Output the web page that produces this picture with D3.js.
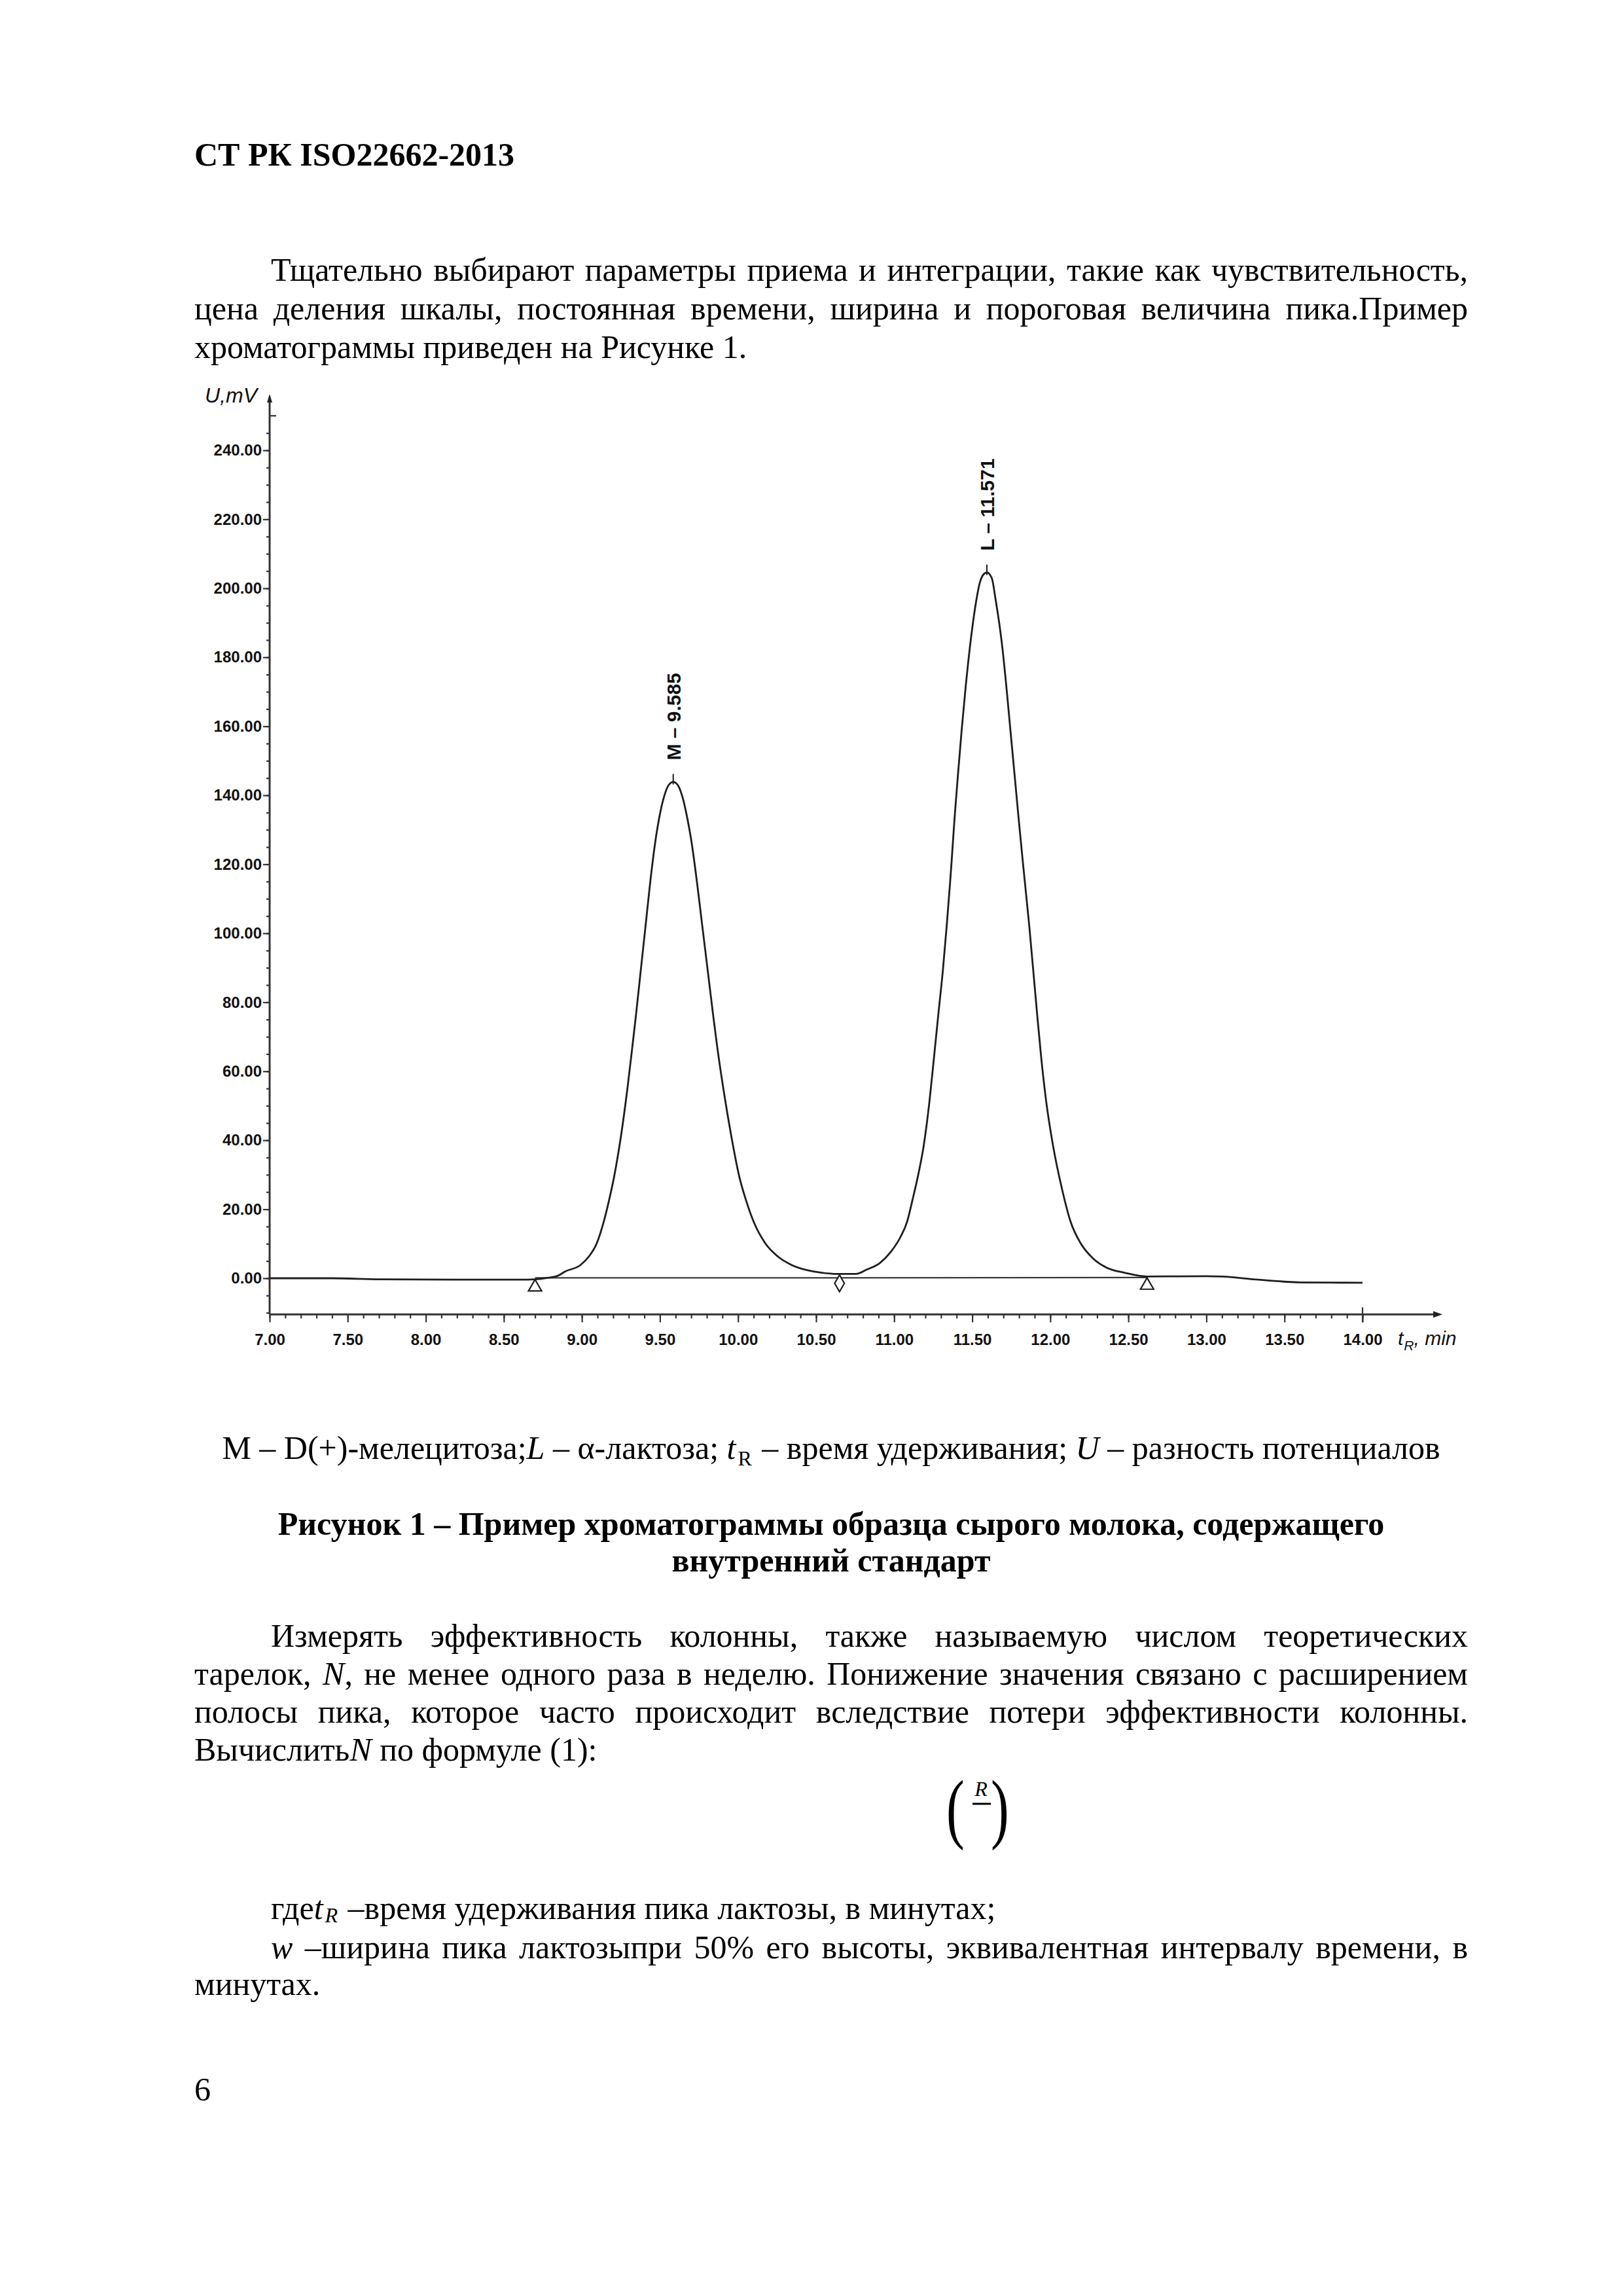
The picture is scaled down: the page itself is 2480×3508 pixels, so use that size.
<!DOCTYPE html>
<html>
<head>
<meta charset="utf-8">
<script src="https://cdn.jsdelivr.net/npm/d3@7"></script>
<style>
  body { margin: 0; background: #fff; }
  svg { display: block; }
</style>
</head>
<body>
<script>
// chromatogram trace (min, mV)
const retentionTime = [
  7.00, 7.40, 7.70, 8.20, 8.60, 8.70, 8.78, 8.85,
  // M peak
  8.89, 8.99, 9.045, 9.095, 9.14, 9.175, 9.205, 9.252, 9.29, 9.323, 9.347, 9.377, 9.407, 9.437,
  9.472, 9.495, 9.527, 9.555, 9.585, 9.615, 9.643, 9.675, 9.70, 9.738, 9.772, 9.806, 9.84, 9.867,
  9.908, 9.955, 10.01, 10.05, 10.10, 10.175, 10.255, 10.345, 10.49,
  // valley
  10.64, 10.755,
  // L peak
  10.824, 10.908, 10.978, 11.041, 11.083, 11.118, 11.15, 11.19, 11.226, 11.255, 11.283, 11.312,
  11.336, 11.358, 11.368, 11.387, 11.409, 11.432, 11.458, 11.488, 11.527, 11.548, 11.572, 11.594,
  11.625, 11.65, 11.69, 11.719, 11.745, 11.771, 11.797, 11.824, 11.866, 11.891, 11.916, 11.942,
  11.974, 12.017, 12.075, 12.13, 12.195, 12.275, 12.36, 12.475, 12.62,
  // tail
  13.00, 13.10, 13.30, 13.50, 13.60, 14.00
];
const signal = [
  0.0, 0.0, -0.3, -0.4, -0.4, -0.3, 0.1, 0.8,
  1.9, 3.8, 6.3, 10.1, 16.4, 22.8, 29.1, 41.7, 54.4, 67.0, 76.5, 89.2, 101.8, 114.5,
  127.1, 133.4, 139.7, 142.9, 143.9, 142.9, 139.7, 133.4, 127.1, 114.5, 101.8, 89.2, 76.5, 67.0,
  54.4, 41.7, 29.1, 22.8, 16.4, 10.1, 6.3, 3.8, 1.9,
  1.25, 1.25,
  2.5, 4.4, 7.6, 12.0, 16.4, 22.8, 29.1, 38.6, 51.2, 63.9, 76.5, 89.2,
  101.8, 114.5, 120.8, 133.4, 146.1, 158.7, 171.4, 184.0, 196.7, 201.5, 204.0, 204.6,
  203.0, 196.7, 184.0, 171.4, 158.7, 146.1, 133.4, 120.8, 101.8, 89.2, 76.5, 63.9,
  51.2, 38.6, 25.9, 16.4, 10.1, 5.7, 3.1, 1.6, 0.5,
  0.6, 0.5, -0.3, -1.0, -1.2, -1.3
];

// integration baseline and its start / valley / end markers
const baselineTimes = [8.70, 10.65, 12.62];
const baselineLevels = [0.1, 0.1, 0.2];
const markerTimes = [8.70, 10.65, 12.62];
const markerLevels = [-0.3, 1.0, 0.2];
const markerShapes = ['triangle', 'diamond', 'triangle'];

// peak annotations
const peakLabels = ['M – 9.585', 'L – 11.571'];
const peakTimes = [9.585, 11.594];
const peakHeights = [143.9, 204.6];

// axes
const yTickValues = [0, 20, 40, 60, 80, 100, 120, 140, 160, 180, 200, 220, 240];
const xTickValues = [7.00, 7.50, 8.00, 8.50, 9.00, 9.50, 10.00, 10.50, 11.00, 11.50, 12.00, 12.50, 13.00, 13.50, 14.00];

const W = 2480, H = 3508;
const serif = "'Liberation Serif', 'Times New Roman', serif";
const sans = "'Liberation Sans', Arial, sans-serif";
const ink = '#1e1e1e';

const svg = d3.select('body').append('svg')
  .attr('width', W)
  .attr('height', H);

svg.append('rect').attr('width', W).attr('height', H).attr('fill', '#fff');

// ---------- chart ----------
const x = d3.scaleLinear().domain([7, 14]).range([412, 2082]);
const y = d3.scaleLinear().domain([0, 240]).range([1953, 688]);

const x0 = x(7);
const axisY = y(-10.5);
const chart = svg.append('g').attr('class', 'chart');

// y ticks: minor every 5, major every 20
chart.append('g')
    .attr('transform', `translate(${x0},0)`)
    .call(d3.axisLeft(y).tickValues(d3.range(-10, 250, 5)).tickSize(5).tickFormat(''))
    .call(g => g.select('.domain').remove());

chart.append('g')
    .attr('transform', `translate(${x0},0)`)
    .call(d3.axisLeft(y).tickValues(yTickValues).tickSize(10).tickPadding(2).tickFormat(d => d.toFixed(2)))
    .call(g => g.select('.domain').remove())
    .call(g => g.selectAll('text')
      .style('font-family', sans).style('font-size', '24px').style('font-weight', 'bold').attr('fill', '#111'));

// tick at 250 sticks out to the right
chart.append('line')
    .attr('x1', x0).attr('x2', x0 + 10)
    .attr('y1', y(250)).attr('y2', y(250));

// x ticks: minor every 0.1, major every 0.5
chart.append('g')
    .attr('transform', `translate(0,${axisY})`)
    .call(d3.axisBottom(x).tickValues(d3.range(70, 141).map(d => d / 10)).tickSize(6).tickFormat(''))
    .call(g => g.select('.domain').remove());

chart.append('g')
    .attr('transform', `translate(0,${axisY})`)
    .call(d3.axisBottom(x).tickValues(xTickValues).tickSize(12).tickPadding(18).tickFormat(d => d.toFixed(2)))
    .call(g => g.select('.domain').remove())
    .call(g => g.selectAll('text')
      .style('font-family', sans).style('font-size', '24px').style('font-weight', 'bold').attr('fill', '#111'));

// end-of-range marker crosses the axis at 14.00
chart.append('line')
    .attr('x1', x(14)).attr('x2', x(14))
    .attr('y1', axisY - 11).attr('y2', axisY + 12);

chart.selectAll('.tick line, line')
    .attr('stroke', '#333').attr('stroke-width', 2.2);

// axis lines with arrow heads
const yTop = 602;
const xEnd = 2204;
chart.append('line')
    .attr('x1', x0).attr('x2', x0).attr('y1', axisY).attr('y2', yTop + 6)
    .attr('stroke', '#333').attr('stroke-width', 3);
chart.append('path')
    .attr('d', `M${x0},${yTop} L${x0 - 4},${yTop + 13} L${x0 + 4},${yTop + 13} Z`)
    .attr('fill', '#222');
chart.append('line')
    .attr('x1', x0).attr('x2', xEnd - 6).attr('y1', axisY).attr('y2', axisY)
    .attr('stroke', '#333').attr('stroke-width', 3);
chart.append('path')
    .attr('d', `M${xEnd},${axisY} L${xEnd - 14},${axisY - 5} L${xEnd - 14},${axisY + 5} Z`)
    .attr('fill', '#222');

// axis titles
chart.append('text')
    .attr('x', 313).attr('y', 615)
    .style('font-family', sans).style('font-size', '32px').style('font-style', 'italic')
    .attr('fill', '#111')
    .text('U,mV');

const xTitle = chart.append('text')
    .attr('x', 2136).attr('y', 2055)
    .style('font-family', sans).style('font-size', '30px').style('font-style', 'italic')
    .attr('fill', '#111');
xTitle.append('tspan').text('t');
xTitle.append('tspan').attr('dy', 8).attr('dx', 1).style('font-size', '21px').text('R');
xTitle.append('tspan').attr('dy', -8).text(', min');

// integration baseline
const traceLine = d3.line()
    .x(d => x(d[0]))
    .y(d => y(d[1]));

chart.append('path')
    .datum(d3.zip(baselineTimes, baselineLevels))
    .attr('d', traceLine)
    .attr('fill', 'none')
    .attr('stroke', '#3a3a3a')
    .attr('stroke-width', 2.2);

// the signal itself
chart.append('path')
    .datum(d3.zip(retentionTime, signal))
    .attr('d', traceLine.curve(d3.curveMonotoneX))
    .attr('fill', 'none')
    .attr('stroke', ink)
    .attr('stroke-width', 2.8)
    .attr('stroke-linejoin', 'round');

// baseline markers hang below the trace
const markers = d3.zip(markerTimes, markerLevels, markerShapes);
chart.selectAll('.marker')
  .data(markers)
  .enter().append('path')
    .attr('class', 'marker')
    .attr('d', d => d[2] === 'triangle'
      ? d3.symbol(d3.symbolTriangle, 175)()
      : d3.symbol(d3.symbolDiamond, 190)())
    .attr('transform', d => `translate(${x(d[0])},${y(d[1]) + (d[2] === 'triangle' ? 12 : 13)})`)
    .attr('fill', '#fff')
    .attr('stroke', ink)
    .attr('stroke-width', 2.2);

// peak apex ticks and rotated labels
const peaks = d3.zip(peakTimes, peakHeights, peakLabels);
chart.selectAll('.peak-tick')
  .data(peaks)
  .enter().append('line')
    .attr('class', 'peak-tick')
    .attr('x1', d => x(d[0])).attr('x2', d => x(d[0]))
    .attr('y1', d => y(d[1]) + 4).attr('y2', d => y(d[1]) - 12)
    .attr('stroke', ink).attr('stroke-width', 2);

chart.selectAll('.peak-label')
  .data(peaks)
  .enter().append('text')
    .attr('class', 'peak-label')
    .attr('transform', d => `translate(${x(d[0])},${y(d[1]) - 33}) rotate(-90)`)
    .attr('dy', '0.36em')
    .style('font-family', sans).style('font-size', '30px').style('font-weight', 'bold')
    .attr('fill', '#111')
    .text(d => d[2]);

// ---------- page text ----------
function writeLine(parts, o) {
  const t = svg.append('text')
      .attr('x', o.x).attr('y', o.y)
      .style('font-family', serif)
      .style('font-size', (o.size || 50) + 'px')
      .style('font-weight', o.bold ? 'bold' : 'normal')
      .attr('fill', '#000');
  if (o.anchor) t.attr('text-anchor', o.anchor);
  const drop = o.subDrop || 10;
  let shift = 0;
  parts.forEach(p => {
    const part = typeof p === 'string' ? {text: p} : p;
    const span = t.append('tspan').text(part.text);
    if (part.italic) span.style('font-style', 'italic');
    const want = part.sub ? drop : 0;
    if (want !== shift) { span.attr('dy', want - shift); shift = want; }
    if (part.sub) span.style('font-size', '32px').attr('dx', 3);
    else if (part.after) span.attr('dx', 3);
  });
  if (o.to) {
    const natural = t.node().getComputedTextLength();
    const gaps = (t.text().match(/ /g) || []).length;
    if (gaps) t.style('word-spacing', ((o.to - o.x - natural) / gaps) + 'px');
  }
  return t;
}

const left = 297, indent = 414, right = 2243, centre = 1270;

writeLine(['СТ РК ISO22662-2013'], {x: left, y: 253, bold: true});

writeLine(['Тщательно выбирают параметры приема и интеграции, такие как чувствительность,'], {x: indent, y: 429, to: right});
writeLine(['цена деления шкалы, постоянная времени, ширина и пороговая величина пика.Пример'], {x: left, y: 488, to: right});
writeLine(['хроматограммы приведен на Рисунке 1.'], {x: left, y: 547});

writeLine([
  'M – D(+)-мелецитоза;', {text: 'L', italic: true}, ' – α-лактоза; ',
  {text: 't', italic: true}, {text: 'R', sub: true}, {text: ' – время удерживания; ', after: true},
  {text: 'U', italic: true}, ' – разность потенциалов'
], {x: centre, y: 2229, anchor: 'middle'});

writeLine(['Рисунок 1 – Пример хроматограммы образца сырого молока, содержащего'], {x: centre, y: 2345, anchor: 'middle', bold: true});
writeLine(['внутренний стандарт'], {x: centre, y: 2401, anchor: 'middle', bold: true});

writeLine(['Измерять эффективность колонны, также называемую числом теоретических'], {x: indent, y: 2516, to: right});
writeLine(['тарелок, ', {text: 'N', italic: true}, ', не менее одного раза в неделю. Понижение значения связано с расширением'], {x: left, y: 2574, to: right});
writeLine(['полосы пика, которое часто происходит вследствие потери эффективности колонны.'], {x: left, y: 2632, to: right});
writeLine(['Вычислить', {text: 'N', italic: true}, ' по формуле (1):'], {x: left, y: 2690});

// formula fragment
const formula = svg.append('g').style('font-family', serif).attr('fill', '#000');
formula.append('text').attr('transform', 'translate(1446,2802) scale(0.8,1.15)')
    .style('font-size', '104px').style('font-weight', '300').text('(');
formula.append('text').attr('transform', 'translate(1514,2802) scale(0.8,1.15)')
    .style('font-size', '104px').style('font-weight', '300').text(')');
formula.append('text').attr('x', 1499).attr('y', 2744).attr('text-anchor', 'middle')
    .style('font-size', '32px').style('font-style', 'italic').text('R');
formula.append('line')
    .attr('x1', 1486).attr('x2', 1514).attr('y1', 2756).attr('y2', 2756)
    .attr('stroke', '#000').attr('stroke-width', 3);

writeLine(['где', {text: 't', italic: true}, {text: 'R', italic: true, sub: true}, {text: ' –время удерживания пика лактозы, в минутах;', after: true}], {x: indent, y: 2932, subDrop: 5});
writeLine([{text: 'w', italic: true}, ' –ширина пика лактозыпри 50% его высоты, эквивалентная интервалу времени, в'], {x: indent, y: 2992, to: right});
writeLine(['минутах.'], {x: left, y: 3048});

writeLine(['6'], {x: left, y: 3209});
</script>
</body>
</html>
